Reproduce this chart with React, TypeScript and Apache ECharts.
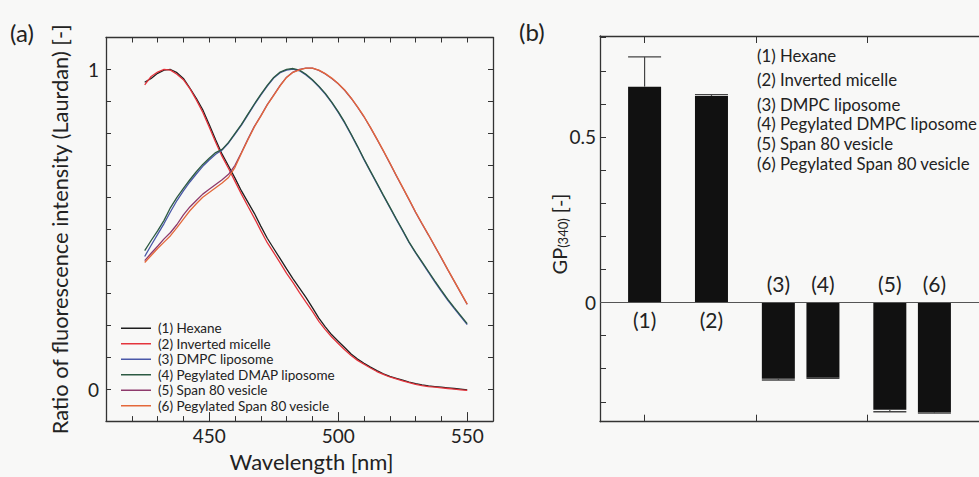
import React, { useEffect, useRef } from 'react';
import * as echarts from 'echarts';

// ---------- Panel (a): Laurdan emission spectra ----------
const wavelengths = [
  425, 427.5, 430, 432.5, 435, 437.5, 440, 442.5, 445, 447.5,
  450, 452.5, 455, 457.5, 460, 462.5, 465, 467.5, 470, 472.5,
  475, 477.5, 480, 482.5, 485, 487.5, 490, 492.5, 495, 497.5,
  500, 502.5, 505, 507.5, 510, 512.5, 515, 517.5, 520, 522.5,
  525, 527.5, 530, 532.5, 535, 537.5, 540, 542.5, 545, 547.5, 550,
];

const hexane = [
  0.960, 0.972, 0.988, 0.998, 1.000, 0.990, 0.972, 0.942, 0.910, 0.874,
  0.828, 0.780, 0.735, 0.698, 0.660, 0.620, 0.585, 0.550, 0.510, 0.472,
  0.440, 0.408, 0.376, 0.345, 0.316, 0.287, 0.255, 0.222, 0.195, 0.170,
  0.150, 0.130, 0.110, 0.094, 0.081, 0.069, 0.058, 0.048, 0.040, 0.034,
  0.028, 0.022, 0.017, 0.013, 0.010, 0.008, 0.006, 0.004, 0.002, 0.000, -0.002,
];
const invertedMicelle = [
  0.952, 0.978, 0.992, 1.000, 0.998, 0.985, 0.968, 0.940, 0.905, 0.866,
  0.820, 0.772, 0.728, 0.690, 0.650, 0.610, 0.572, 0.535, 0.496, 0.458,
  0.427, 0.395, 0.362, 0.333, 0.302, 0.272, 0.243, 0.212, 0.186, 0.163,
  0.143, 0.123, 0.105, 0.090, 0.078, 0.066, 0.055, 0.046, 0.038, 0.032,
  0.026, 0.020, 0.015, 0.011, 0.008, 0.006, 0.004, 0.002, 0.000, -0.002, -0.004,
];
const dmpcLiposome = [
  0.415, 0.450, 0.484, 0.518, 0.555, 0.590, 0.620, 0.648, 0.673, 0.697,
  0.717, 0.735, 0.748, 0.770, 0.798, 0.826, 0.858, 0.890, 0.920, 0.948,
  0.973, 0.990, 0.998, 1.001, 0.996, 0.983, 0.966, 0.946, 0.923, 0.896,
  0.866, 0.833, 0.796, 0.758, 0.718, 0.680, 0.643, 0.605, 0.568, 0.531,
  0.495, 0.458, 0.426, 0.396, 0.365, 0.335, 0.306, 0.278, 0.252, 0.227, 0.202,
];
const pegDmpcLiposome = [
  0.433, 0.465, 0.495, 0.528, 0.568, 0.600, 0.628, 0.655, 0.680, 0.703,
  0.722, 0.740, 0.750, 0.772, 0.800, 0.828, 0.860, 0.892, 0.922, 0.950,
  0.975, 0.992, 1.000, 1.003, 0.998, 0.985, 0.968, 0.948, 0.925, 0.898,
  0.868, 0.835, 0.798, 0.760, 0.720, 0.682, 0.645, 0.607, 0.570, 0.533,
  0.497, 0.460, 0.428, 0.398, 0.368, 0.338, 0.309, 0.281, 0.255, 0.230, 0.205,
];
const span80Vesicle = [
  0.402, 0.425, 0.447, 0.470, 0.490, 0.515, 0.545, 0.570, 0.590, 0.610,
  0.625, 0.640, 0.655, 0.672, 0.700, 0.740, 0.782, 0.822, 0.855, 0.890,
  0.920, 0.950, 0.976, 0.992, 1.000, 1.004, 1.004, 0.997, 0.986, 0.972,
  0.955, 0.935, 0.910, 0.882, 0.852, 0.818, 0.782, 0.745, 0.707, 0.668,
  0.630, 0.592, 0.553, 0.517, 0.482, 0.446, 0.410, 0.373, 0.337, 0.301, 0.265,
];
const pegSpan80Vesicle = [
  0.396, 0.418, 0.440, 0.460, 0.480, 0.505, 0.532, 0.558, 0.580, 0.600,
  0.615, 0.630, 0.645, 0.662, 0.694, 0.738, 0.780, 0.820, 0.854, 0.889,
  0.919, 0.949, 0.975, 0.991, 0.999, 1.004, 1.004, 0.998, 0.987, 0.973,
  0.956, 0.936, 0.911, 0.883, 0.853, 0.819, 0.783, 0.746, 0.708, 0.669,
  0.631, 0.593, 0.554, 0.518, 0.483, 0.447, 0.411, 0.374, 0.338, 0.302, 0.266,
];

const spectraNames = [
  '(1) Hexane',
  '(2) Inverted micelle',
  '(3) DMPC liposome',
  '(4) Pegylated DMAP liposome',
  '(5) Span 80 vesicle',
  '(6) Pegylated Span 80 vesicle',
];
const spectraValues = [hexane, invertedMicelle, dmpcLiposome, pegDmpcLiposome, span80Vesicle, pegSpan80Vesicle];
const spectraColors = ['#1e1e1e', '#e4343c', '#4a58a8', '#2c5a42', '#8e3a6c', '#e4683a'];

const xMajorTicksA = [450, 500, 550];
const yLabelsA = [0, 1];

// ---------- Panel (b): GP(340) ----------
const gpLabels = ['(1)', '(2)', '(3)', '(4)', '(5)', '(6)'];
const gpPositions = [1.0, 1.6, 2.2, 2.6, 3.2, 3.6];
const gpValues = [0.652, 0.624, -0.230, -0.227, -0.324, -0.332];
const gpErrors = [0.09, 0.004, 0.004, 0.002, 0.006, 0.002];
const gpTicks = [-0.3, -0.2, -0.1, 0, 0.1, 0.2, 0.3, 0.4, 0.5, 0.6, 0.7, 0.8];
const gpTickLabels = [0, 0.5];
const xTicksB = [1, 2, 3];
const legendB = [
  '(1) Hexane',
  '(2) Inverted micelle',
  '(3) DMPC liposome',
  '(4) Pegylated DMPC liposome',
  '(5) Span 80 vesicle',
  '(6) Pegylated Span 80 vesicle',
];
const legendBY = [55, 79.5, 104, 123.5, 143.5, 163];

const FONT = 'Lato, "Open Sans", sans-serif';
const INK = '#222';
const AXIS = '#333';

export default function App() {
  const ref = useRef<HTMLDivElement>(null);

  useEffect(() => {
    if (!ref.current) return;
    const chart = echarts.init(ref.current, undefined, { renderer: 'svg' });

    const axisLine = { show: true, onZero: false, lineStyle: { color: AXIS, width: 1.3 } };
    const noLine = { show: false, onZero: false };
    const tickStyle = { color: AXIS, width: 1 };

    const lineSeries = spectraNames.map((name, s) => ({
      name,
      type: 'line',
      xAxisIndex: 0,
      yAxisIndex: 0,
      symbol: 'none',
      showSymbol: false,
      color: spectraColors[s],
      lineStyle: { width: 1.3, color: spectraColors[s] },
      data: wavelengths.map((w, i) => [w, spectraValues[s][i]]),
      z: 2 + s,
    }));

    const gpRich = {
      a: { fontSize: 20, color: INK, fontFamily: FONT, lineHeight: 24, verticalAlign: 'bottom' },
      s: { fontSize: 13, color: INK, fontFamily: FONT, lineHeight: 13, verticalAlign: 'bottom' },
    };

    const option: any = {
      animation: false,
      backgroundColor: '#f8f8f7',
      textStyle: { fontFamily: FONT },
      grid: [
        { left: 106, top: 37.5, width: 387, height: 387.5 },
        { left: 600, top: 36, width: 387, height: 385.7 },
      ],
      legend: {
        data: spectraNames,
        orient: 'vertical',
        left: 116,
        top: 315.5,
        itemWidth: 30,
        itemHeight: 1.5,
        itemGap: 0,
        icon: 'rect',
        selectedMode: false,
        textStyle: { fontSize: 13.5, color: INK, lineHeight: 15.5, fontFamily: FONT, padding: [0, 0, 0, 2] },
      },
      xAxis: [
        {
          gridIndex: 0, type: 'value', position: 'bottom', min: 410, max: 560,
          axisLine,
          axisTick: { inside: true, length: 9, customValues: xMajorTicksA, lineStyle: tickStyle },
          axisLabel: { customValues: xMajorTicksA, fontSize: 19, color: INK, margin: 5, fontFamily: FONT },
          splitLine: { show: false },
          name: 'Wavelength [nm]', nameLocation: 'middle', nameGap: 27,
          nameTextStyle: { fontSize: 22, color: INK, fontFamily: FONT, padding: [0, 0, 0, 24] },
        },
        {
          gridIndex: 0, type: 'value', position: 'bottom', min: 410, max: 560, interval: 10,
          axisLine: noLine,
          axisTick: { inside: true, length: 5, lineStyle: tickStyle },
          axisLabel: { show: false }, splitLine: { show: false },
        },
        {
          gridIndex: 0, type: 'value', position: 'top', min: 410, max: 560, interval: 10,
          axisLine,
          axisTick: { inside: true, length: 5, lineStyle: tickStyle },
          axisLabel: { show: false }, splitLine: { show: false },
        },
        {
          gridIndex: 1, type: 'value', position: 'bottom', min: 0.6, max: 4.0,
          axisLine,
          axisTick: { inside: true, length: 7, customValues: xTicksB, lineStyle: tickStyle },
          axisLabel: { show: false }, splitLine: { show: false },
        },
        {
          gridIndex: 1, type: 'value', position: 'top', min: 0.6, max: 4.0,
          axisLine,
          axisTick: { inside: true, length: 7, customValues: xTicksB, lineStyle: tickStyle },
          axisLabel: { show: false }, splitLine: { show: false },
        },
      ],
      yAxis: [
        {
          gridIndex: 0, type: 'value', position: 'left', min: -0.1, max: 1.1, interval: 0.1,
          axisLine,
          axisTick: { inside: true, length: 5, lineStyle: tickStyle },
          axisLabel: { customValues: yLabelsA, fontSize: 19, color: INK, margin: 7, fontFamily: FONT, formatter: (v: number) => String(Math.round(v)) },
          splitLine: { show: false },
          name: 'Ratio of fluorescence intensity (Laurdan) [-]',
          nameLocation: 'middle', nameRotate: 90, nameGap: 36,
          nameTextStyle: { fontSize: 21.8, color: INK, fontFamily: FONT, padding: [0, 0, 0, 0] },
        },
        {
          gridIndex: 0, type: 'value', position: 'right', min: -0.1, max: 1.1, interval: 0.1,
          axisLine,
          axisTick: { inside: true, length: 5, lineStyle: tickStyle },
          axisLabel: { show: false }, splitLine: { show: false },
        },
        {
          gridIndex: 1, type: 'value', position: 'left', min: -0.36, max: 0.805,
          axisLine,
          axisTick: { inside: true, length: 6, customValues: gpTicks, lineStyle: tickStyle },
          axisLabel: { customValues: gpTickLabels, fontSize: 19, color: INK, margin: 4, fontFamily: FONT, formatter: (v: number) => (Math.abs(v) < 1e-9 ? '0' : String(v)) },
          splitLine: { show: false },
        },
      ],
      series: [
        ...lineSeries,
        {
          name: 'GP(340)',
          type: 'bar',
          xAxisIndex: 3,
          yAxisIndex: 2,
          barWidth: 33,
          itemStyle: { color: '#111' },
          data: gpValues.map((v, i) => ({
            value: [gpPositions[i], v],
            label: v >= 0 ? { position: 'bottom', distance: 6 } : { position: 'top', distance: 9 },
          })),
          label: {
            show: true,
            fontSize: 21,
            color: INK,
            fontFamily: FONT,
            formatter: (p: any) => gpLabels[p.dataIndex],
          },
          markLine: {
            silent: true,
            symbol: 'none',
            label: { show: false },
            lineStyle: { color: '#555', width: 1, type: 'solid' },
            data: [{ yAxis: 0 }],
          },
          z: 3,
        },
        {
          name: 'GP error',
          type: 'custom',
          xAxisIndex: 3,
          yAxisIndex: 2,
          data: gpValues.map((v, i) => [gpPositions[i], v, v + (v >= 0 ? 1 : -1) * gpErrors[i]]),
          renderItem: (_params: any, api: any) => {
            const x = api.value(0);
            const p0 = api.coord([x, api.value(1)]);
            const p1 = api.coord([x, api.value(2)]);
            const hw = 16.5;
            return {
              type: 'group',
              children: [
                { type: 'line', shape: { x1: p0[0], y1: p0[1], x2: p1[0], y2: p1[1] }, style: { stroke: '#444', lineWidth: 1.2 } },
                { type: 'line', shape: { x1: p1[0] - hw, y1: p1[1], x2: p1[0] + hw, y2: p1[1] }, style: { stroke: '#444', lineWidth: 1.4 } },
              ],
            };
          },
          z: 5,
        },
      ],
      graphic: [
        { type: 'text', x: 10, y: 32, style: { text: '(a)', fontSize: 24, fill: INK, fontFamily: FONT, verticalAlign: 'middle' } },
        { type: 'text', x: 519, y: 31, style: { text: '(b)', fontSize: 24, fill: INK, fontFamily: FONT, verticalAlign: 'middle' } },
        {
          type: 'text', x: 557, y: 234, rotation: Math.PI / 2,
          style: { text: '{a|GP}{s|(340)}{a| [-]}', rich: gpRich, align: 'center', verticalAlign: 'middle', fill: INK, fontFamily: FONT },
        },
        ...legendB.map((t, i) => ({
          type: 'text', x: 757, y: legendBY[i],
          style: { text: t, fontSize: 16.8, fill: INK, fontFamily: FONT, verticalAlign: 'middle' },
        })),
      ],
    };

    chart.setOption(option);
    return () => chart.dispose();
  }, []);

  return (
    <div
      ref={ref}
      style={{ position: 'fixed', left: 0, top: 0, width: 979, height: 477 }}
    />
  );
}
